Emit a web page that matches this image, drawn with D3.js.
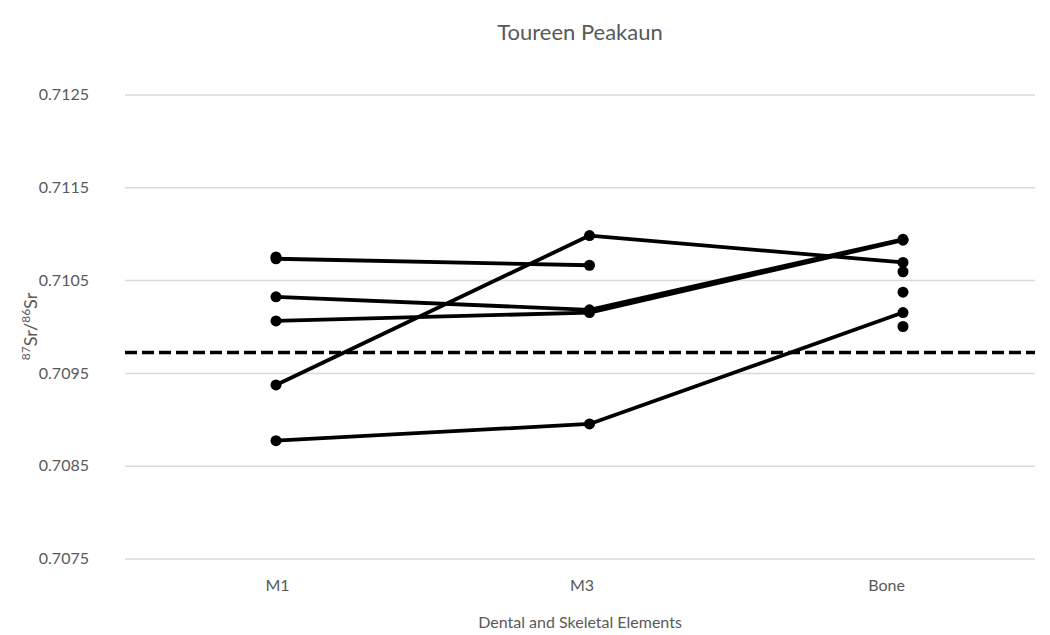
<!DOCTYPE html>
<html>
<head>
<meta charset="utf-8">
<script src="https://cdn.jsdelivr.net/npm/d3@7"></script>
<style>
  body { margin: 0; background: #fff; }
  svg { display: block; }
  text { font-family: Lato, "Open Sans", sans-serif; fill: #595959; }
</style>
</head>
<body>
<svg id="chart" width="1050" height="635"></svg>
<script>
// ---- data ----
const categories = ["M1", "M3", "Bone"];
const yTicks = [0.7075, 0.7085, 0.7095, 0.7105, 0.7115, 0.7125];
const series1 = [0.71075, null, null];
const series2 = [0.71073, 0.71066, null];
const series3 = [0.71032, 0.71018, 0.71094];
const series4 = [0.71006, 0.71015, 0.71093];
const series5 = [0.70937, 0.71098, 0.71069];
const series6 = [0.70877, 0.70895, 0.71015];
const series7 = [null, null, 0.71059];
const series8 = [null, null, 0.71037];
const series9 = [null, null, 0.71000];
const allSeries = [series1, series2, series3, series4, series5, series6, series7, series8, series9];
const baseline = 0.70972;
const chartTitle = "Toureen Peakaun";
const xTitle = "Dental and Skeletal Elements";

// ---- layout ----
const svg = d3.select("#chart");
const mLeft = 125, mRight = 1035, mTop = 94.5, mBottom = 558.5;

// marks and category labels sit at slightly different positions in the reference
const x = d3.scalePoint().domain(categories).range([276, 903]);
const xLab = d3.scalePoint().domain(categories).range([277, 886]);
const y = d3.scaleLinear().domain([0.7075, 0.7125]).range([mBottom, mTop]);

// gridlines
svg.append("g")
  .attr("transform", `translate(${mLeft},0)`)
  .call(d3.axisLeft(y).tickValues(yTicks).tickFormat(d3.format(".4f")).tickSize(-(mRight - mLeft)).tickPadding(36))
  .call(g => g.select(".domain").remove())
  .call(g => g.selectAll(".tick line").attr("stroke", "#d9d9d9").attr("stroke-width", 1.5))
  .call(g => g.selectAll(".tick text").attr("font-size", 16).attr("fill", "#595959")
      .style("font-family", "Lato, sans-serif"));

// x axis labels
svg.append("g")
  .attr("transform", `translate(0,${mBottom})`)
  .call(d3.axisBottom(xLab).tickSize(0).tickPadding(21))
  .call(g => g.select(".domain").remove())
  .call(g => g.selectAll(".tick text").attr("font-size", 16).attr("fill", "#595959")
      .style("font-family", "Lato, sans-serif"));

// baseline dashed
svg.append("line")
  .attr("x1", mLeft).attr("x2", mRight)
  .attr("y1", y(baseline)).attr("y2", y(baseline))
  .attr("stroke", "#000").attr("stroke-width", 3.5)
  .attr("stroke-dasharray", "12,5");

const line = d3.line()
  .defined(d => d.v !== null)
  .x(d => x(d.c)).y(d => y(d.v));

allSeries.forEach(s => {
  const pts = s.map((v, i) => ({ c: categories[i], v }));
  svg.append("path").datum(pts)
    .attr("d", line)
    .attr("fill", "none").attr("stroke", "#000").attr("stroke-width", 3.8)
    .attr("stroke-linejoin", "round");
  svg.append("g").selectAll("circle")
    .data(pts.filter(d => d.v !== null))
    .join("circle")
    .attr("cx", d => x(d.c)).attr("cy", d => y(d.v)).attr("r", 5.5)
    .attr("fill", "#000");
});

// titles
svg.append("text").attr("x", 580).attr("y", 40).attr("text-anchor", "middle")
  .attr("font-size", 22).text(chartTitle);
svg.append("text").attr("x", 580).attr("y", 628).attr("text-anchor", "middle")
  .attr("font-size", 16).text(xTitle);

const yt = svg.append("text")
  .attr("transform", `translate(37,${(mTop + mBottom) / 2}) rotate(-90)`)
  .attr("text-anchor", "middle").attr("font-size", 18);
yt.append("tspan").attr("font-size", 12).attr("dy", -7).text("87");
yt.append("tspan").attr("dy", 7).text("Sr/");
yt.append("tspan").attr("font-size", 12).attr("dy", -7).text("86");
yt.append("tspan").attr("dy", 7).text("Sr");
</script>
</body>
</html>
